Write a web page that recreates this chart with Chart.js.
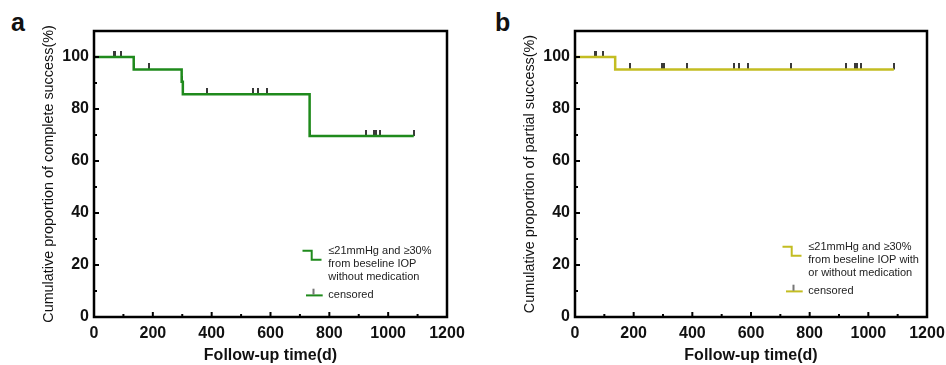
<!DOCTYPE html>
<html><head><meta charset="utf-8">
<script src="https://cdn.jsdelivr.net/npm/chart.js@4.4.0/dist/chart.umd.min.js"></script>
<style>
html,body{margin:0;padding:0;width:946px;height:365px;overflow:hidden;background:#fff;font-family:"Liberation Sans",Arial,sans-serif}
.panel{position:absolute;top:0;height:365px}
.tag{position:absolute;top:10px;font-weight:bold;font-size:25px;line-height:25px;color:#111;font-family:"Liberation Sans",Arial,sans-serif}
</style></head><body>
<div class="tag" style="left:11px">a</div>
<div class="tag" style="left:495px">b</div>
<div class="panel" style="left:0;width:473px"><canvas id="ca" width="473" height="365"></canvas></div>
<div class="panel" style="left:481px;width:479px"><canvas id="cb" width="479" height="365"></canvas></div>
<script>
// ---------- data ----------
const timeA = [0, 135, 298, 302, 733, 1087];
const survA = [100, 95.2, 90.5, 85.7, 69.6, 69.6];
const censorTimeA = [68, 73, 92, 135, 187, 298, 302, 384, 542, 559, 589, 733, 925, 953, 960, 973, 1087];
const censorSurvA = [100, 100, 100, 95.2, 95.2, 90.5, 85.7, 85.7, 85.7, 85.7, 85.7, 69.6, 69.6, 69.6, 69.6, 69.6, 69.6];

const timeB = [0, 137, 1087];
const survB = [100, 95.2, 95.2];
const censorTimeB = [68, 73, 94, 137, 186, 298, 302, 381, 541, 560, 589, 737, 925, 955, 961, 975, 1087];
const censorSurvB = [100, 100, 100, 95.2, 95.2, 95.2, 95.2, 95.2, 95.2, 95.2, 95.2, 95.2, 95.2, 95.2, 95.2, 95.2, 95.2];

const xTicks = [0, 200, 400, 600, 800, 1000, 1200];
const yTicks = [0, 20, 40, 60, 80, 100];
const xTitle = 'Follow-up time(d)';
const yTitleA = 'Cumulative proportion of complete success(%)';
const yTitleB = 'Cumulative proportion of partial success(%)';
const legendA = ['\u226421mmHg and \u226530%', 'from beseline IOP', 'without medication'];
const legendB = ['\u226421mmHg and \u226530%', 'from beseline IOP with', 'or without medication'];
const censorLabel = 'censored';

const GREEN = '#1f8a1c';
const YELLOW = '#c3bd22';
const TICKCOL = '#3a3a3a';
const FONT = '"Liberation Sans", Arial, sans-serif';

function tickImage(){
  const c = document.createElement('canvas'); c.width = 2; c.height = 12;
  const g = c.getContext('2d'); g.fillStyle = TICKCOL; g.fillRect(0, 0, 2, 6);
  return c;
}

const framePlugin = {
  id: 'frame',
  afterDraw(chart) {
    const ctx = chart.ctx, a = chart.chartArea;
    const xs = chart.scales.x, ys = chart.scales.y;
    const o = chart.options.plugins.frame;
    ctx.save();
    ctx.strokeStyle = '#000';
    ctx.lineWidth = 2.5;
    ctx.strokeRect(a.left, a.top, a.right - a.left, a.bottom - a.top);
    ctx.lineWidth = 2;
    for (let v = xs.min; v <= xs.max; v += 100) {
      const px = xs.getPixelForValue(v);
      const len = (v % 200 === 0) ? 5 : 3;
      ctx.beginPath(); ctx.moveTo(px, a.bottom); ctx.lineTo(px, a.bottom - len); ctx.stroke();
    }
    for (let v = ys.min; v <= ys.max; v += 10) {
      const py = ys.getPixelForValue(v);
      const len = (v % 20 === 0) ? 5 : 3;
      ctx.beginPath(); ctx.moveTo(a.left, py); ctx.lineTo(a.left + len, py); ctx.stroke();
    }
    // legend
    const R = a.right, y0 = a.bottom - o.legendOffset;
    ctx.strokeStyle = o.color; ctx.lineWidth = 2;
    ctx.beginPath();
    ctx.moveTo(R - 144.5, y0); ctx.lineTo(R - 135.3, y0); ctx.lineTo(R - 135.3, y0 + 9); ctx.lineTo(R - 125.5, y0 + 9);
    ctx.stroke();
    const yc = y0 + 44;
    ctx.beginPath(); ctx.moveTo(R - 141, yc + 0.7); ctx.lineTo(R - 124.3, yc + 0.7); ctx.stroke();
    ctx.fillStyle = '#777'; ctx.fillRect(R - 134.5, yc - 6, 2, 6);
    ctx.fillStyle = '#222';
    ctx.font = '11px ' + FONT;
    ctx.textBaseline = 'middle'; ctx.textAlign = 'left';
    o.lines.forEach((t, i) => ctx.fillText(t, R - 118.7, y0 + i * 13));
    ctx.fillText(censorLabel, R - 118.7, yc);
    ctx.restore();
  }
};

function makeChart(id, times, surv, cTimes, cSurv, color, yTitle, legendLines, legendOffset, padRight) {
  new Chart(document.getElementById(id), {
    type: 'line',
    data: {
      datasets: [
        {
          data: times.map((t, i) => ({x: t, y: surv[i]})),
          stepped: 'before', borderColor: color, borderWidth: 2.5,
          pointRadius: 0, fill: false, order: 0
        },
        {
          data: cTimes.map((t, i) => ({x: t, y: cSurv[i]})),
          showLine: false, pointStyle: tickImage(), pointRadius: 6,
          borderWidth: 0, order: 1
        }
      ]
    },
    options: {
      responsive: false, animation: false,
      layout: {padding: {left: 0, right: padRight, top: 31, bottom: 0}},
      plugins: {
        legend: {display: false}, tooltip: {enabled: false},
        frame: {color: color, lines: legendLines, legendOffset: legendOffset}
      },
      scales: {
        x: {
          type: 'linear', min: 0, max: 1200,
          grid: {display: false, drawTicks: false}, border: {display: false},
          afterBuildTicks: s => { s.ticks = xTicks.map(v => ({value: v})); },
          afterFit: s => { s.height = 48; },
          ticks: {color: '#111', padding: 7, font: {family: FONT, size: 16, weight: 'bold'}, maxRotation: 0,
                  callback: v => String(v)},
          title: {display: true, text: xTitle, color: '#111', padding: {top: 0, bottom: 1},
                  font: {family: FONT, size: 16, weight: 'bold', lineHeight: 1.0}}
        },
        y: {
          type: 'linear', min: 0, max: 110,
          grid: {display: false, drawTicks: false}, border: {display: false},
          afterBuildTicks: s => { s.ticks = yTicks.map(v => ({value: v})); },
          afterFit: s => { s.width = 94; },
          ticks: {color: '#111', padding: 5, font: {family: FONT, size: 16, weight: 'bold'},
                  callback: v => String(v)},
          title: {display: true, text: yTitle, color: '#111', padding: {top: 40, bottom: 0},
                  font: {family: FONT, size: 14.4, weight: 'normal'}}
        }
      }
    },
    plugins: [framePlugin]
  });
}

makeChart('ca', timeA, survA, censorTimeA, censorSurvA, GREEN, yTitleA, legendA, 66.3, 26);
makeChart('cb', timeB, survB, censorTimeB, censorSurvB, YELLOW, yTitleB, legendB, 70.3, 33);
</script>
</body></html>
